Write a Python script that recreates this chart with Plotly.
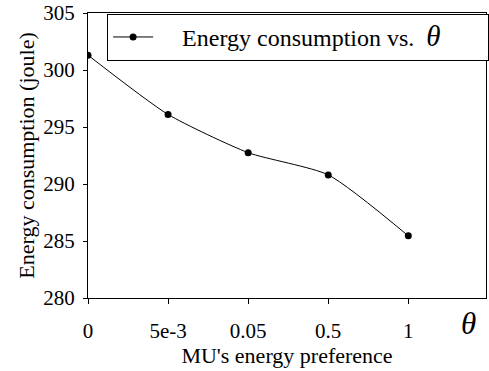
import plotly.graph_objects as go

categories = ["0", "5e-3", "0.05", "0.5", "1"]
energy = [301.3, 296.1, 292.75, 290.8, 285.45]
y_ticks = [280, 285, 290, 295, 300, 305]

font_family = "Liberation Serif, Times New Roman, serif"
nb = "\u00a0"

fig = go.Figure()
fig.add_trace(go.Scatter(
    x=list(range(len(categories))), y=energy,
    mode="lines+markers",
    line=dict(color="black", width=1, shape="spline", smoothing=0.6),
    marker=dict(color="black", size=7),
    name=nb * 4 + "Energy consumption vs." + nb * 2
         + "<i><span style='font-size:29px'>θ</span></i>" + nb * 7,
))

fig.update_layout(
    width=489, height=371,
    margin=dict(l=88, r=3, t=13, b=73, autoexpand=False),
    plot_bgcolor="white", paper_bgcolor="white",
    font=dict(family=font_family, color="black", size=21),
    showlegend=True,
    legend=dict(
        x=0.048, y=0.997, xanchor="left", yanchor="top",
        bordercolor="black", borderwidth=1, bgcolor="white",
        font=dict(size=24, family=font_family),
        itemwidth=40,
    ),
    xaxis=dict(
        range=[0, 4.97],
        tickmode="array", tickvals=list(range(len(categories))), ticktext=categories,
        showline=True, linecolor="black", linewidth=1, mirror=True,
        ticks="outside", ticklen=5, tickcolor="black",
        ticklabelstandoff=9,
        showgrid=False, zeroline=False,
        tickfont=dict(size=21, family=font_family),
        title=dict(text="MU's energy preference", font=dict(size=22, family=font_family), standoff=0),
    ),
    yaxis=dict(
        range=[280, 305],
        tickmode="array", tickvals=y_ticks,
        showline=True, linecolor="black", linewidth=1, mirror=True,
        ticks="outside", ticklen=4, tickcolor="black",
        ticklabelstandoff=4,
        showgrid=False, zeroline=False,
        tickfont=dict(size=21, family=font_family),
        title=dict(text="Energy consumption (joule)", font=dict(size=22, family=font_family), standoff=2),
    ),
)

fig.add_annotation(
    text="<i>θ</i>", xref="paper", yref="paper", x=0.957, y=-0.09,
    xanchor="center", yanchor="middle", showarrow=False,
    font=dict(size=31, family=font_family),
)

fig.write_html("out.html")
